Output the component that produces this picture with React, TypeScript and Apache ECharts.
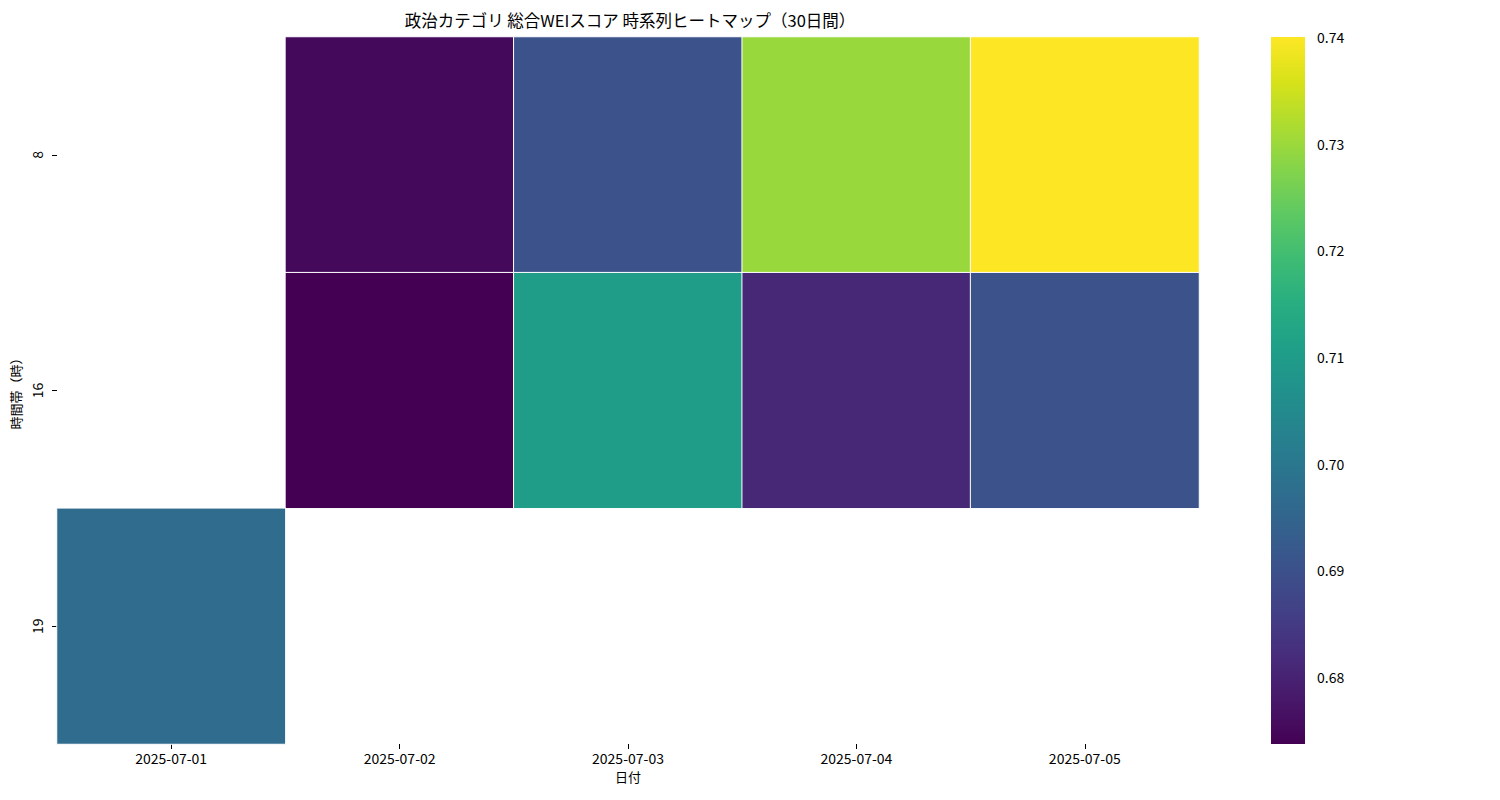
import React, { useEffect, useRef } from "react";
import * as echarts from "echarts";

const dates = ["2025-07-01", "2025-07-02", "2025-07-03", "2025-07-04", "2025-07-05"];
const hours = ["8", "16", "19"];
const hour8 = [null, 0.6752, 0.6903, 0.7297, 0.74];
const hour16 = [null, 0.6737, 0.7102, 0.681, 0.6903];
const hour19 = [0.6969, null, null, null, null];
const colorMin = 0.6737;
const colorMax = 0.74;
const colorTicks = [0.68, 0.69, 0.7, 0.71, 0.72, 0.73, 0.74];
const viridis = [
  "#440154", "#48186a", "#472d7b", "#424086", "#3b528b", "#33638d", "#2c728e", "#26828e",
  "#21918c", "#1fa088", "#28ae80", "#3fbc73", "#5ec962", "#84d44b", "#addc30", "#d8e219", "#fde725",
];

const FONT = "'Noto Sans CJK JP', 'Noto Sans', sans-serif";

export default function App() {
  const ref = useRef<HTMLDivElement>(null);
  useEffect(() => {
    if (!ref.current) return;
    const chart = echarts.init(ref.current, null, { renderer: "svg" });
    const rows = [hour8, hour16, hour19];
    const data: any[] = [];
    rows.forEach((row, yi) => {
      row.forEach((v, xi) => {
        if (v !== null) data.push([xi, yi, v]);
      });
    });
    const stops = viridis.map((c, i) => ({ offset: i / (viridis.length - 1), color: c }));
    chart.setOption({
      animation: false,
      textStyle: { fontFamily: FONT },
      title: {
        text: "政治カテゴリ 総合WEIスコア 時系列ヒートマップ（30日間）",
        left: 625,
        textAlign: "center",
        top: 7,
        textStyle: { fontFamily: FONT, fontSize: 16.5, fontWeight: "normal", color: "#000" },
      },
      grid: [
        { left: 57, right: 301, top: 37, bottom: 56, outerBoundsMode: "none", containLabel: false },
        { left: 1271, width: 34, top: 37, bottom: 56, outerBoundsMode: "none", containLabel: false },
      ],
      xAxis: [
        {
          type: "category",
          data: dates,
          gridIndex: 0,
          name: "日付",
          nameLocation: "middle",
          nameGap: 26,
          nameTextStyle: { fontFamily: FONT, fontSize: 13, color: "#000" },
          axisLine: { show: false },
          axisTick: { show: true, alignWithLabel: true, length: 5, lineStyle: { color: "#000" } },
          axisLabel: { fontFamily: FONT, fontSize: 14, color: "#000", margin: 7 },
          splitLine: { show: false },
        },
        { type: "value", gridIndex: 1, show: false, min: 0, max: 1 },
      ],
      yAxis: [
        {
          type: "category",
          data: hours,
          inverse: true,
          gridIndex: 0,
          name: "時間帯（時）",
          nameLocation: "middle",
          nameGap: 32,
          nameRotate: 90,
          nameTextStyle: { fontFamily: FONT, fontSize: 13, color: "#000" },
          axisLine: { show: false },
          axisTick: { show: true, alignWithLabel: true, length: 5, lineStyle: { color: "#000" } },
          axisLabel: { fontFamily: FONT, fontSize: 14, color: "#000", rotate: 90, margin: 13 },
          splitLine: { show: false },
        },
        {
          type: "value",
          gridIndex: 1,
          position: "right",
          min: colorMin,
          max: colorMax,
          axisLine: { show: false },
          splitLine: { show: false },
          axisTick: { show: true, length: 5, customValues: colorTicks, lineStyle: { color: "#000" } },
          axisLabel: {
            show: true,
            customValues: colorTicks,
            fontFamily: FONT,
            fontSize: 14,
            color: "#000",
            margin: 12,
            formatter: (v: number) => v.toFixed(2),
          },
        },
      ],
      visualMap: {
        show: false,
        type: "continuous",
        min: colorMin,
        max: colorMax,
        seriesIndex: 0,
        dimension: 2,
        inRange: { color: viridis },
      },
      series: [
        {
          type: "heatmap",
          xAxisIndex: 0,
          yAxisIndex: 0,
          data,
          itemStyle: { borderColor: "#fff", borderWidth: 1 },
          emphasis: { disabled: true },
        },
        {
          type: "custom",
          xAxisIndex: 1,
          yAxisIndex: 1,
          data: [[0, colorMin]],
          silent: true,
          renderItem: (params: any) => {
            const cs = params.coordSys;
            return {
              type: "rect",
              shape: { x: cs.x, y: cs.y, width: cs.width, height: cs.height },
              style: {
                fill: { type: "linear", x: 0, y: 1, x2: 0, y2: 0, colorStops: stops },
              },
            };
          },
        },
      ],
    });
    return () => chart.dispose();
  }, []);
  return (
    <div
      ref={ref}
      style={{ position: "absolute", left: 0, top: 0, width: 1500, height: 800 }}
    />
  );
}
